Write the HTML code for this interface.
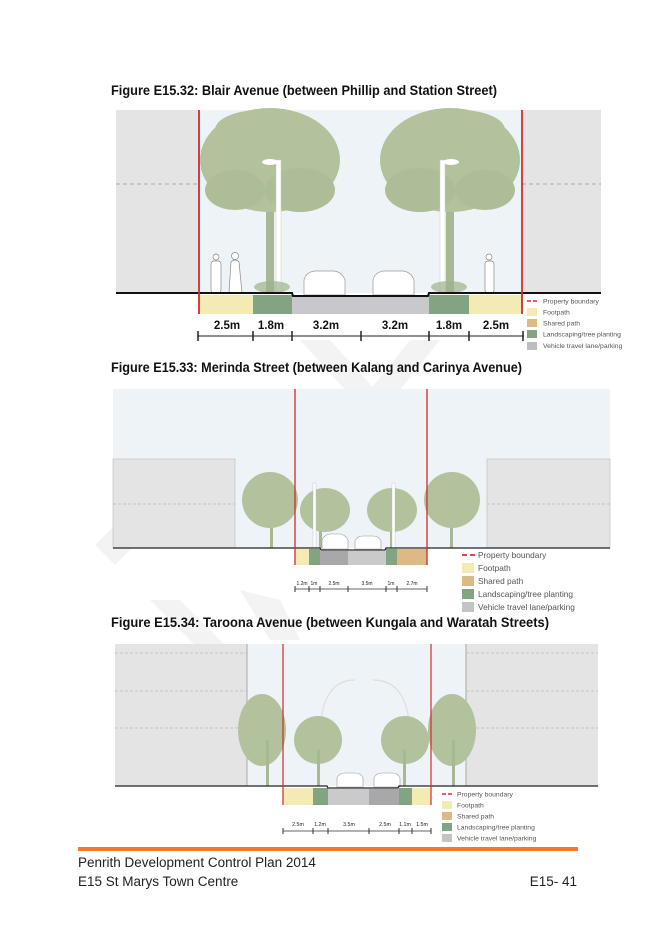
<!DOCTYPE html>
<html><head><meta charset="utf-8"><style>
html,body{margin:0;padding:0;background:#fff;}
svg{display:block;}
text{font-family:"Liberation Sans",sans-serif;}
</style></head><body>
<svg width="656" height="928" viewBox="0 0 656 928" xmlns="http://www.w3.org/2000/svg">

<!-- watermark chevrons -->
<g fill="#f3f3f3">
<polygon points="300,340 330,340 380,395 350,395"/>
<polygon points="410,340 440,340 400,390 370,390"/>
<polygon points="95,545 130,510 150,530 115,565"/>
<polygon points="150,600 180,600 230,650 200,650"/>
<polygon points="240,590 280,600 300,640 270,640"/>
</g>

<!-- ============ FIGURE 1 ============ -->
<text x="111" y="95" font-size="14" font-weight="bold" textLength="386" lengthAdjust="spacingAndGlyphs" fill="#111">Figure E15.32: Blair Avenue (between Phillip and Station Street)</text>
<rect x="116" y="110" width="485" height="183" fill="#e4e4e4"/>
<rect x="199" y="110" width="323" height="183" fill="#edf3f6"/>
<line x1="116" y1="184" x2="199" y2="184" stroke="#aaa" stroke-width="1" stroke-dasharray="4,3"/>
<line x1="522" y1="184" x2="601" y2="184" stroke="#aaa" stroke-width="1" stroke-dasharray="4,3"/>
<!-- tree 1 -->
<rect x="266" y="200" width="8" height="93" fill="#a7b894"/>
<g transform="translate(270,0)">
<ellipse cx="0" cy="160" rx="70" ry="52" fill="#b1c29d"/>
<ellipse cx="-10" cy="130" rx="45" ry="20" fill="#b1c29d"/>
<ellipse cx="30" cy="190" rx="35" ry="22" fill="#acbd98"/>
<ellipse cx="-35" cy="190" rx="30" ry="20" fill="#acbd98"/>
</g>
<rect x="276" y="160" width="5" height="133" fill="#fff" stroke="#ccc" stroke-width="0.5"/>
<ellipse cx="270" cy="162" rx="8" ry="3" fill="#fff"/>
<!-- tree 2 -->
<rect x="446" y="200" width="8" height="93" fill="#a7b894"/>
<g transform="translate(450,0)">
<ellipse cx="0" cy="160" rx="70" ry="52" fill="#b1c29d"/>
<ellipse cx="10" cy="130" rx="45" ry="20" fill="#b1c29d"/>
<ellipse cx="-30" cy="190" rx="35" ry="22" fill="#acbd98"/>
<ellipse cx="35" cy="190" rx="30" ry="20" fill="#acbd98"/>
</g>
<rect x="440" y="160" width="5" height="133" fill="#fff" stroke="#ccc" stroke-width="0.5"/>
<ellipse cx="451" cy="162" rx="8" ry="3" fill="#fff"/>
<!-- shrubs -->
<ellipse cx="272" cy="287" rx="18" ry="6" fill="#9db28a" opacity="0.7"/>
<ellipse cx="449" cy="287" rx="18" ry="6" fill="#9db28a" opacity="0.7"/>
<!-- people -->
<g fill="#fff" stroke="#888" stroke-width="0.7">
<circle cx="216" cy="257" r="3"/><rect x="211" y="261" width="10" height="32" rx="3"/>
<circle cx="235" cy="256" r="3.5"/><path d="M229,293 L231,262 Q235,258 239,262 L242,293 Z"/>
<circle cx="489" cy="257" r="3"/><rect x="485" y="261" width="9" height="32" rx="3"/>
</g>
<!-- cars -->
<g fill="#fff" stroke="#999" stroke-width="0.7">
<path d="M304,295 L304,280 Q306,272 315,271 L334,271 Q342,272 345,280 L345,295 Z"/>
<path d="M373,295 L373,280 Q375,272 384,271 L403,271 Q411,272 414,280 L414,295 Z"/>
</g>
<!-- ground -->
<rect x="199" y="295" width="54" height="19" fill="#f4eab4"/>
<rect x="253" y="295" width="39" height="19" fill="#82a482"/>
<rect x="292" y="297" width="69" height="17" fill="#c8c8cc"/>
<rect x="361" y="297" width="68" height="17" fill="#c9c9cd"/>
<rect x="429" y="295" width="40" height="19" fill="#82a482"/>
<rect x="469" y="295" width="53" height="19" fill="#f4eab4"/>
<path d="M116,293 L292,293 L293,296 L428,296 L429,293 L601,293" stroke="#111" stroke-width="2" fill="none"/>
<line x1="199" y1="110" x2="199" y2="314" stroke="#d42a2a" stroke-width="1.8"/>
<line x1="522" y1="110" x2="522" y2="314" stroke="#d42a2a" stroke-width="1.8"/>
<g font-size="11.5" font-weight="bold" fill="#111" text-anchor="middle">
<text x="227" y="329">2.5m</text><text x="271" y="329">1.8m</text><text x="326" y="329">3.2m</text>
<text x="395" y="329">3.2m</text><text x="449" y="329">1.8m</text><text x="496" y="329">2.5m</text>
</g>
<line x1="197" y1="336" x2="524" y2="336" stroke="#222" stroke-width="1"/>
<g stroke="#222" stroke-width="1.5">
<line x1="198" y1="331" x2="198" y2="341"/><line x1="253" y1="331" x2="253" y2="341"/><line x1="292" y1="331" x2="292" y2="341"/>
<line x1="361" y1="331" x2="361" y2="341"/><line x1="429" y1="331" x2="429" y2="341"/><line x1="469" y1="331" x2="469" y2="341"/><line x1="523" y1="331" x2="523" y2="341"/>
</g>
<!-- legend 1 -->
<line x1="527" y1="301" x2="531" y2="301" stroke="#d42a2a" stroke-width="1.5"/><line x1="533" y1="301" x2="537" y2="301" stroke="#d42a2a" stroke-width="1.5"/>
<rect x="527" y="308" width="10" height="8" fill="#f4eab4"/>
<rect x="527" y="319" width="10" height="8" fill="#dcb985"/>
<rect x="527" y="330" width="10" height="8" fill="#82a482"/>
<rect x="527" y="342" width="10" height="8" fill="#bdbdbd"/>
<g font-size="6.8" fill="#555">
<text x="543" y="303.5">Property boundary</text><text x="543" y="314.5">Footpath</text><text x="543" y="325.5">Shared path</text>
<text x="543" y="336.5">Landscaping/tree planting</text><text x="543" y="348">Vehicle travel lane/parking</text>
</g>

<!-- ============ FIGURE 2 ============ -->
<text x="111" y="372" font-size="14" font-weight="bold" textLength="411" lengthAdjust="spacingAndGlyphs" fill="#111">Figure E15.33: Merinda Street (between Kalang and Carinya Avenue)</text>
<rect x="113" y="389" width="497" height="159" fill="#edf3f6"/>
<rect x="113" y="459" width="122" height="89" fill="#e4e4e4" stroke="#bbb" stroke-width="0.6"/>
<rect x="487" y="459" width="123" height="89" fill="#e4e4e4" stroke="#bbb" stroke-width="0.6"/>
<line x1="113" y1="504" x2="235" y2="504" stroke="#bbb" stroke-dasharray="3,2" stroke-width="0.7"/>
<line x1="487" y1="504" x2="610" y2="504" stroke="#bbb" stroke-dasharray="3,2" stroke-width="0.7"/>
<g>
<rect x="270" y="500" width="3" height="48" fill="#a7b894"/>
<ellipse cx="270" cy="500" rx="28" ry="28" fill="#b1c29d"/>
<rect x="319" y="510" width="3" height="38" fill="#a7b894"/>
<ellipse cx="325" cy="510" rx="25" ry="22" fill="#b1c29d"/>
<rect x="390" y="510" width="3" height="38" fill="#a7b894"/>
<ellipse cx="392" cy="510" rx="25" ry="22" fill="#b1c29d"/>
<rect x="450" y="500" width="3" height="48" fill="#a7b894"/>
<ellipse cx="452" cy="500" rx="28" ry="28" fill="#b1c29d"/>
</g>
<rect x="313" y="483" width="3" height="65" fill="#fff" stroke="#bbb" stroke-width="0.4"/>
<rect x="392" y="483" width="3" height="65" fill="#fff" stroke="#bbb" stroke-width="0.4"/>
<g fill="#fff" stroke="#999" stroke-width="0.6">
<path d="M322,549 L322,540 Q324,535 330,534 L340,534 Q346,535 348,540 L348,549 Z"/>
<path d="M355,549 L355,541 Q357,536 363,536 L373,536 Q379,536 381,541 L381,549 Z"/>
</g>
<rect x="295" y="549" width="14" height="16" fill="#f4eab4"/>
<rect x="309" y="549" width="11" height="16" fill="#82a482"/>
<rect x="320" y="551" width="28" height="14" fill="#a8a8aa"/>
<rect x="348" y="551" width="38" height="14" fill="#cacacc"/>
<rect x="386" y="549" width="11" height="16" fill="#82a482"/>
<rect x="397" y="549" width="30" height="16" fill="#dcb985"/>
<path d="M113,548 L320,548 L321,550 L385,550 L386,548 L610,548" stroke="#222" stroke-width="1.3" fill="none"/>
<line x1="295" y1="389" x2="295" y2="565" stroke="#d42a2a" stroke-width="1.3"/>
<line x1="427" y1="389" x2="427" y2="565" stroke="#d42a2a" stroke-width="1.3"/>
<g font-size="5" fill="#222" text-anchor="middle">
<text x="302" y="585">1.2m</text><text x="314" y="585">1m</text><text x="334" y="585">2.5m</text><text x="367" y="585">3.5m</text><text x="391" y="585">1m</text><text x="412" y="585">2.7m</text>
</g>
<line x1="295" y1="589" x2="427" y2="589" stroke="#333" stroke-width="0.7"/>
<g stroke="#333" stroke-width="1"><line x1="295" y1="586" x2="295" y2="592"/><line x1="309" y1="586" x2="309" y2="592"/><line x1="320" y1="586" x2="320" y2="592"/><line x1="348" y1="586" x2="348" y2="592"/><line x1="386" y1="586" x2="386" y2="592"/><line x1="397" y1="586" x2="397" y2="592"/><line x1="427" y1="586" x2="427" y2="592"/></g>
<line x1="462" y1="555" x2="467" y2="555" stroke="#d42a2a" stroke-width="1.7"/><line x1="470" y1="555" x2="475" y2="555" stroke="#d42a2a" stroke-width="1.7"/>
<rect x="462" y="563" width="12" height="10" fill="#f4eab4"/>
<rect x="462" y="576" width="12" height="10" fill="#dcb985"/>
<rect x="462" y="589" width="12" height="10" fill="#82a482"/>
<rect x="462" y="602" width="12" height="10" fill="#c4c4c4"/>
<g font-size="8.3" fill="#555">
<text x="478" y="558">Property boundary</text><text x="478" y="571">Footpath</text><text x="478" y="584">Shared path</text>
<text x="478" y="597">Landscaping/tree planting</text><text x="478" y="610">Vehicle travel lane/parking</text>
</g>

<!-- ============ FIGURE 3 ============ -->
<text x="111" y="627" font-size="14" font-weight="bold" textLength="438" lengthAdjust="spacingAndGlyphs" fill="#111">Figure E15.34: Taroona Avenue (between Kungala and Waratah Streets)</text>
<rect x="115" y="644" width="483" height="142" fill="#e4e4e4"/>
<rect x="247" y="644" width="219" height="142" fill="#edf3f6"/>
<line x1="247" y1="644" x2="247" y2="786" stroke="#999" stroke-width="0.8"/>
<line x1="466" y1="644" x2="466" y2="786" stroke="#999" stroke-width="0.8"/>
<g stroke="#bbb" stroke-dasharray="3,2" stroke-width="0.7">
<line x1="115" y1="653" x2="247" y2="653"/><line x1="466" y1="653" x2="598" y2="653"/>
<line x1="115" y1="691" x2="247" y2="691"/><line x1="466" y1="691" x2="598" y2="691"/>
<line x1="115" y1="728" x2="247" y2="728"/><line x1="466" y1="728" x2="598" y2="728"/>
</g>
<path d="M320,745 Q318,680 355,680 M410,745 Q412,680 373,680" stroke="#ddd" stroke-width="1.2" fill="none"/>
<ellipse cx="262" cy="730" rx="24" ry="36" fill="#b1c29d"/>
<rect x="266" y="740" width="3" height="46" fill="#a7b894"/>
<ellipse cx="318" cy="740" rx="24" ry="24" fill="#b1c29d"/>
<rect x="317" y="750" width="3" height="36" fill="#a7b894"/>
<ellipse cx="405" cy="740" rx="24" ry="24" fill="#b1c29d"/>
<rect x="403" y="750" width="3" height="36" fill="#a7b894"/>
<ellipse cx="452" cy="730" rx="24" ry="36" fill="#b1c29d"/>
<rect x="452" y="740" width="3" height="46" fill="#a7b894"/>
<g fill="#fff" stroke="#999" stroke-width="0.6">
<path d="M337,787 L337,778 Q339,773 345,773 L355,773 Q361,773 363,778 L363,787 Z"/>
<path d="M374,787 L374,778 Q376,773 382,773 L392,773 Q398,773 400,778 L400,787 Z"/>
</g>
<rect x="283" y="788" width="30" height="17" fill="#f4eab4"/>
<rect x="313" y="788" width="15" height="17" fill="#82a482"/>
<rect x="328" y="789" width="41" height="16" fill="#cacacc"/>
<rect x="369" y="789" width="30" height="16" fill="#a8a8aa"/>
<rect x="399" y="788" width="13" height="17" fill="#82a482"/>
<rect x="412" y="788" width="19" height="17" fill="#f4eab4"/>
<path d="M115,786 L327,786 L328,788 L398,788 L399,786 L598,786" stroke="#222" stroke-width="1.3" fill="none"/>
<line x1="283" y1="644" x2="283" y2="805" stroke="#d42a2a" stroke-width="1.2"/>
<line x1="431" y1="644" x2="431" y2="805" stroke="#d42a2a" stroke-width="1.2"/>
<g font-size="5.3" fill="#222" text-anchor="middle">
<text x="298" y="826">2.5m</text><text x="320" y="826">1.2m</text><text x="349" y="826">3.5m</text><text x="385" y="826">2.5m</text><text x="405" y="826">1.1m</text><text x="422" y="826">1.5m</text>
</g>
<line x1="283" y1="831" x2="431" y2="831" stroke="#333" stroke-width="0.7"/>
<g stroke="#333" stroke-width="1"><line x1="283" y1="828" x2="283" y2="834"/><line x1="313" y1="828" x2="313" y2="834"/><line x1="328" y1="828" x2="328" y2="834"/><line x1="369" y1="828" x2="369" y2="834"/><line x1="399" y1="828" x2="399" y2="834"/><line x1="412" y1="828" x2="412" y2="834"/><line x1="431" y1="828" x2="431" y2="834"/></g>
<line x1="442" y1="794" x2="446" y2="794" stroke="#d42a2a" stroke-width="1.5"/><line x1="448" y1="794" x2="452" y2="794" stroke="#d42a2a" stroke-width="1.5"/>
<rect x="442" y="801" width="10" height="8" fill="#f4eab4"/>
<rect x="442" y="812" width="10" height="8" fill="#dcb985"/>
<rect x="442" y="823" width="10" height="8" fill="#82a482"/>
<rect x="442" y="834" width="10" height="8" fill="#c4c4c4"/>
<g font-size="6.8" fill="#555">
<text x="457" y="796.5">Property boundary</text><text x="457" y="807.5">Footpath</text><text x="457" y="818.5">Shared path</text>
<text x="457" y="829.5">Landscaping/tree planting</text><text x="457" y="840.5">Vehicle travel lane/parking</text>
</g>

<!-- footer -->
<rect x="78" y="847" width="500" height="4" fill="#f07a30"/>
<g font-size="13.5" fill="#222">
<text x="78" y="867">Penrith Development Control Plan 2014</text>
<text x="78" y="886">E15 St Marys Town Centre</text>
<text x="577" y="886" text-anchor="end">E15- 41</text>
</g>
</svg>
</body></html>
